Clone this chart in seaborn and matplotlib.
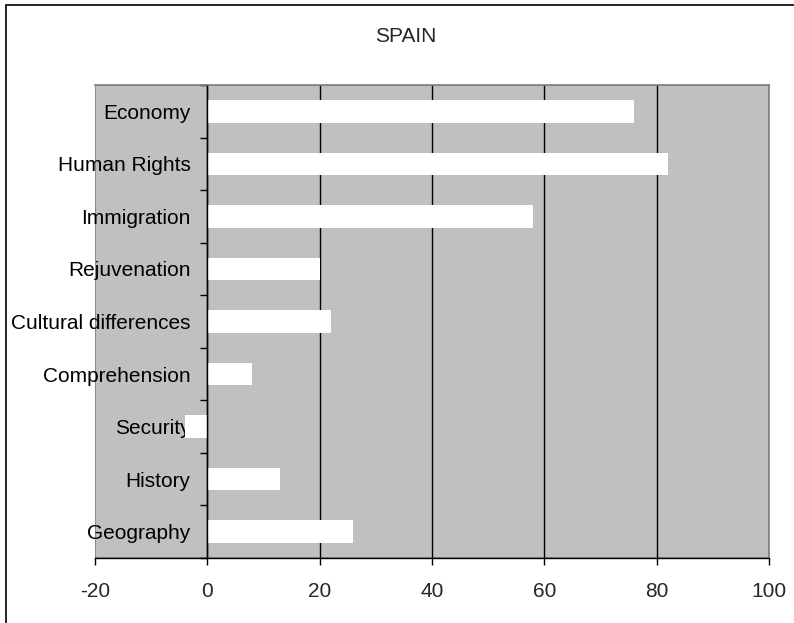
import numpy as np
import pandas as pd
import matplotlib
matplotlib.use("Agg")
import matplotlib.pyplot as plt
from matplotlib.patches import Rectangle
import seaborn as sns

# Survey topics and their scores for Spain
topics = ["Economy", "Human Rights", "Immigration", "Rejuvenation",
          "Cultural differences", "Comprehension", "Security", "History",
          "Geography"]
scores = [76, 82, 58, 20, 22, 8, -4, 13, 26]
x_ticks = [-20, 0, 20, 40, 60, 80, 100]
title = "SPAIN"

df = pd.DataFrame({"topic": topics, "score": scores})

sns.set_style("white")
plt.rcParams["font.family"] = ["Liberation Sans", "DejaVu Sans"]
plt.rcParams["font.size"] = 15
plt.rcParams["axes.unicode_minus"] = False

fig = plt.figure(figsize=(7.94, 6.23), dpi=100)
ax = fig.add_axes([95 / 794, 1 - 558 / 623, (769 - 95) / 794, (558 - 85) / 623])
ax.set_facecolor("#C0C0C0")

sns.barplot(data=df, x="score", y="topic", color="white", saturation=1,
            width=0.43, linewidth=0, edgecolor="none", ax=ax, zorder=2)

ax.set_xlim(x_ticks[0], x_ticks[-1])
ax.set_xticks(x_ticks)
ax.set_xlabel("")
ax.set_ylabel("")

# vertical gridlines at interior ticks only
ax.set_axisbelow(True)
ax.xaxis.grid(True, color="black", linewidth=1)
ax.yaxis.grid(False)
for gl, t in zip(ax.xaxis.get_gridlines(), x_ticks):
    if t in (x_ticks[0], x_ticks[-1]):
        gl.set_visible(False)

# category axis crosses at zero
n = len(topics)
ax.spines["left"].set_position(("data", 0))
ax.spines["left"].set_color("black")
ax.spines["left"].set_linewidth(1)
ax.spines["bottom"].set_color("black")
ax.spines["bottom"].set_linewidth(1)
for s in ("top", "right"):
    ax.spines[s].set_color("#808080")
    ax.spines[s].set_linewidth(1.2)
ax.add_patch(Rectangle((0, 0), 1, 1, transform=ax.transAxes, fill=False,
                       edgecolor="#808080", linewidth=1.2, zorder=0.5))

ax.set_yticks(np.arange(n), labels=topics, minor=True)
ax.set_yticks(np.arange(n + 1) - 0.5, labels=[])
ax.set_ylim(n - 0.5, -0.5)
ax.tick_params(axis="y", which="minor", length=0, pad=12, labelsize=15,
               labelcolor="black")
ax.tick_params(axis="y", which="major", length=5, width=1, color="black",
               direction="out", left=True)
ax.tick_params(axis="x", length=5, width=1, color="black", direction="out",
               pad=12, labelsize=15, bottom=True)
for lbl in ax.get_yticklabels(minor=True):
    lbl.set_zorder(5)

fig.text(406 / 794, 1 - 36 / 623, title, ha="center", va="center", fontsize=15)

# chart area frame
fig.patches.append(Rectangle((6 / 794, -0.2), 1.3, 0.2 + 1 - 5 / 623,
                             transform=fig.transFigure, fill=False,
                             edgecolor="black", linewidth=1.2))

fig.savefig("out.png", dpi=100)
